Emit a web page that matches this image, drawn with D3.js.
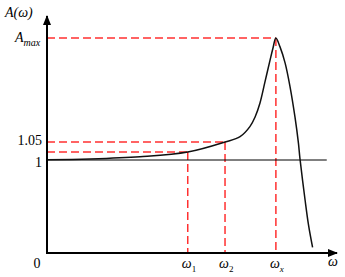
<!DOCTYPE html>
<html>
<head>
<meta charset="utf-8">
<script src="https://cdn.jsdelivr.net/npm/d3@7"></script>
<style>
  body { margin: 0; background: #fff; }
  text { font-family: "Liberation Serif", "DejaVu Serif", serif; font-size: 14px; fill: #000; }
</style>
</head>
<body>
<svg id="chart" width="345" height="277"></svg>
<script>
// frequency response
const omega = [0, 1.49, 3.22, 4.87, 6.16, 6.68, 7.02, 7.20, 7.37, 7.54, 7.72, 7.82, 7.92, 8.06, 8.24, 8.41, 8.58, 8.70, 8.75, 8.93, 9.05, 9.19];
const amp   = [1.001, 1.003, 1.009, 1.022, 1.05, 1.065, 1.093, 1.120, 1.159, 1.217, 1.279, 1.312, 1.34, 1.316, 1.27, 1.204, 1.12, 1.047, 1.006, 0.57, 0.30, 0.061];

// marked points
const markW = [4.87, 6.16, 7.92];
const markA = [1.022, 1.05, 1.34];
const markNames = ["1", "2", "x"];

const yTickVals = [1, 1.05];
const yTickLabels = ["1", "1.05"];
const aMax = 1.34;
const unitLineEnd = 9.68;

const svg = d3.select("#chart");

const x = d3.scaleLinear().domain([0, 10]).range([47, 336]);
// schematic axis: lower part compressed
const y = d3.scaleLinear().domain([0, 1, aMax]).range([253, 160, 38]);

const red = "#ff3030";

// dashed guide lines
markW.forEach((w, i) => {
  if (i < 2) {
    svg.append("line")
      .attr("x1", x(0)).attr("x2", x(w))
      .attr("y1", y(markA[i])).attr("y2", y(markA[i]))
      .attr("stroke", red).attr("stroke-width", 1.5).attr("stroke-dasharray", "8,4");
  }
  svg.append("line")
    .attr("x1", x(w)).attr("x2", x(w))
    .attr("y1", y(markA[i])).attr("y2", y(0))
    .attr("stroke", red).attr("stroke-width", 1.5).attr("stroke-dasharray", "8,4");
});
// Amax line
svg.append("line")
  .attr("x1", x(0)).attr("x2", x(markW[2]))
  .attr("y1", y(aMax)).attr("y2", y(aMax))
  .attr("stroke", red).attr("stroke-width", 1.5).attr("stroke-dasharray", "8,4");

// A = 1 line
svg.append("line")
  .attr("x1", x(0)).attr("x2", x(unitLineEnd))
  .attr("y1", y(1)).attr("y2", y(1))
  .attr("stroke", "#000").attr("stroke-width", 1);

// curve
const line = d3.line()
  .x((d, i) => x(omega[i]))
  .y((d, i) => y(amp[i]))
  .curve(d3.curveCatmullRom.alpha(0.5));

svg.append("path")
  .datum(omega)
  .attr("d", line)
  .attr("fill", "none")
  .attr("stroke", "#111")
  .attr("stroke-width", 1.5);

// axes with arrows
svg.append("defs").append("marker")
  .attr("id", "arrow")
  .attr("viewBox", "0 0 10 10")
  .attr("refX", 9).attr("refY", 5)
  .attr("markerWidth", 5).attr("markerHeight", 5)
  .attr("orient", "auto")
  .append("path").attr("d", "M0,1 L10,5 L0,9 Z").attr("fill", "#000");

svg.append("line")
  .attr("x1", x(0)).attr("x2", x(0))
  .attr("y1", y(0) + 1).attr("y2", 16)
  .attr("stroke", "#000").attr("stroke-width", 2)
  .attr("marker-end", "url(#arrow)");
svg.append("line")
  .attr("x1", x(0) - 1).attr("x2", 337)
  .attr("y1", y(0)).attr("y2", y(0))
  .attr("stroke", "#000").attr("stroke-width", 2)
  .attr("marker-end", "url(#arrow)");

// labels
const yl = svg.append("text").attr("x", 5).attr("y", 17).style("font-style", "italic");
yl.append("tspan").text("A(");
yl.append("tspan").text("ω");
yl.append("tspan").text(")");

const am = svg.append("text").attr("x", 15).attr("y", y(aMax) + 4).style("font-style", "italic");
am.append("tspan").text("A");
am.append("tspan").attr("dy", 4).style("font-size", "10px").text("max");

yTickVals.forEach((v, i) => {
  svg.append("text")
    .attr("x", x(0) - 5).attr("y", y(v) + (i === 0 ? 7 : 3))
    .attr("text-anchor", "end")
    .text(yTickLabels[i]);
});

svg.append("text").attr("x", 37).attr("y", 268).attr("text-anchor", "middle").text("0");

markW.forEach((w, i) => {
  const t = svg.append("text").attr("x", x(w) - 6).attr("y", 268).style("font-style", "italic");
  t.append("tspan").text("ω");
  t.append("tspan").attr("dy", 4).style("font-size", "9px")
    .style("font-style", i < 2 ? "normal" : "italic")
    .text(markNames[i]);
});

svg.append("text").attr("x", 328).attr("y", 266).style("font-style", "italic").text("ω");
</script>
</body>
</html>
